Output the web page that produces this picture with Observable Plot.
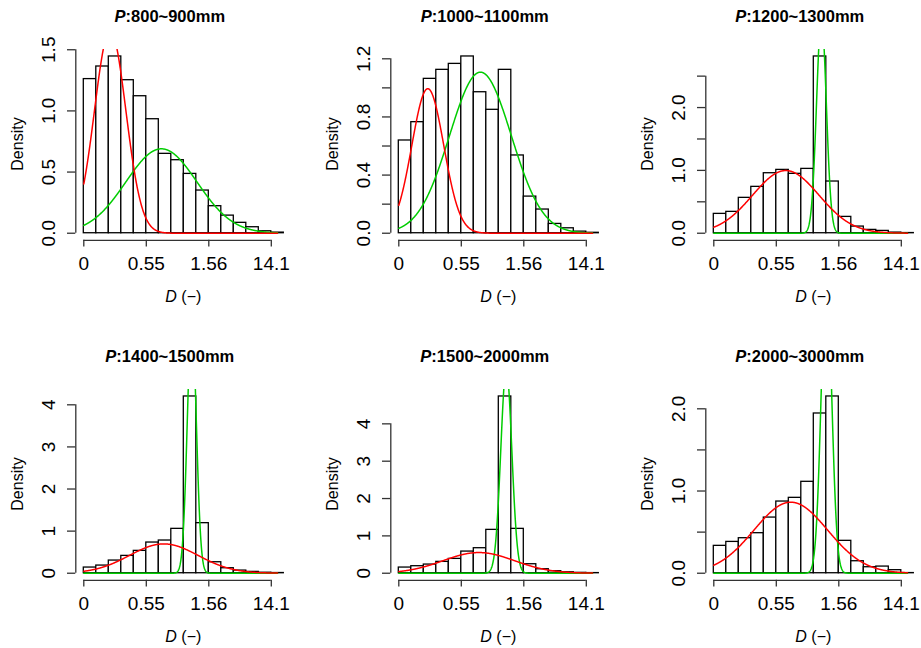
<!DOCTYPE html>
<html>
<head>
<meta charset="utf-8">
<script src="https://cdn.jsdelivr.net/npm/d3@7"></script>
<script src="https://cdn.jsdelivr.net/npm/@observablehq/plot@0.6"></script>
<style>
  html, body { margin: 0; padding: 0; background: #fff; overflow: hidden; }
  #figure {
    position: relative; width: 921px; height: 648px; overflow: hidden; background: #fff;
    font-family: "Liberation Sans", Arial, Helvetica, sans-serif; color: #000;
  }
  .panel { position: absolute; width: 315px; height: 340px; }
  .panel svg { position: absolute; left: 0; top: 0; }
  .lbl { position: absolute; white-space: nowrap; line-height: 1; }
</style>
</head>
<body>
<div id="figure"></div>
<script>
// Precipitation classes, one panel each
const precipClasses = ["800~900mm", "1000~1100mm", "1200~1300mm", "1400~1500mm", "1500~2000mm", "2000~3000mm"];

// Histogram bin edges on the transformed D scale
const binEdges = [0, 0.1, 0.2, 0.3, 0.4, 0.5, 0.6, 0.7, 0.8, 0.9, 1.0, 1.1, 1.2, 1.3, 1.4, 1.5, 1.6];

// Bar densities per class
const dens800  = [1.260, 1.363, 1.445, 1.251, 1.120, 0.932, 0.649, 0.597, 0.485, 0.349, 0.221, 0.144, 0.085, 0.049, 0.016, 0.005];
const dens1000 = [0.638, 0.764, 1.062, 1.124, 1.165, 1.216, 0.970, 0.849, 1.124, 0.535, 0.252, 0.163, 0.064, 0.034, 0.011, 0.003];
const dens1200 = [0.308, 0.340, 0.563, 0.738, 0.955, 1.008, 0.945, 1.024, 2.813, 0.823, 0.260, 0.106, 0.053, 0.037, 0.010, 0.003];
const dens1400 = [0.135, 0.182, 0.301, 0.412, 0.531, 0.729, 0.777, 1.054, 4.198, 1.189, 0.261, 0.119, 0.063, 0.032, 0.012, 0.005];
const dens1500 = [0.152, 0.188, 0.232, 0.304, 0.384, 0.580, 0.670, 1.161, 4.733, 1.188, 0.241, 0.107, 0.054, 0.025, 0.010, 0.004];
const dens2000 = [0.333, 0.381, 0.426, 0.487, 0.677, 0.872, 0.917, 1.112, 1.943, 2.150, 0.394, 0.146, 0.073, 0.081, 0.037, 0.002];
const densities = [dens800, dens1000, dens1200, dens1400, dens1500, dens2000];

// Two-component normal mixture per class (red and green components)
const redMean     = [0.211, 0.232, 0.576, 0.640, 0.640, 0.616];
const redSd       = [0.1255, 0.128, 0.266, 0.275, 0.286, 0.295];
const redWeight   = [0.521, 0.319, 0.665, 0.480, 0.397, 0.639];
const greenMean   = [0.621, 0.653, 0.861, 0.864, 0.860, 0.901];
const greenSd     = [0.285, 0.247, 0.039, 0.036, 0.044, 0.042];
const greenWeight = [0.493, 0.686, 0.335, 0.540, 0.603, 0.380];

// Axis ticks
const xTickPos = [0, 0.5, 1.0, 1.5];
const xTickLabels = ["0", "0.55", "1.56", "14.1"];
const yTicks = [
  [0, 0.5, 1.0, 1.5],
  [0, 0.2, 0.4, 0.6, 0.8, 1.0, 1.2],
  [0, 0.5, 1.0, 1.5, 2.0, 2.5],
  [0, 1, 2, 3, 4],
  [0, 1, 2, 3, 4],
  [0, 0.5, 1.0, 1.5, 2.0]
];
const yTickLabels = [
  ["0.0", "0.5", "1.0", "1.5"],
  ["0.0", "", "0.4", "", "0.8", "", "1.2"],
  ["0.0", "", "1.0", "", "2.0", ""],
  ["0", "1", "2", "3", "4"],
  ["0", "1", "2", "3", "4"],
  ["0.0", "", "1.0", "", "2.0"]
];

const FONT = '"Liberation Sans", Arial, Helvetica, sans-serif';
const PW = 315, PH = 340;               // panel cell size
const ML = 75.3, MR = 23.7, MT = 48.9, MB = 100.2;
const xDomain = [-0.064, 1.664];         // bin range plus 4% on each side
const curveTo = 1.55;

function dnorm(x, m, s) {
  const z = (x - m) / s;
  return Math.exp(-0.5 * z * z) / (s * Math.sqrt(2 * Math.PI));
}

function textAt(parent, html, cx, baseline, fs, extra = "") {
  const el = document.createElement("div");
  el.className = "lbl";
  el.innerHTML = html;
  el.style.cssText = `left:${cx}px;top:${baseline - 0.8465 * fs}px;font-size:${fs}px;transform:translateX(-50%);${extra}`;
  parent.appendChild(el);
}

function rotatedAt(parent, html, cx, cy, fs) {
  const el = document.createElement("div");
  el.className = "lbl";
  el.innerHTML = html;
  el.style.cssText = `left:${cx}px;top:${cy}px;font-size:${fs}px;transform:translate(-50%,-50%) rotate(-90deg);`;
  parent.appendChild(el);
}

function drawPanel(i) {
  const dens = densities[i];
  const bins = dens.map((d, j) => ({x1: binEdges[j], x2: binEdges[j + 1], d}));
  const M = d3.max(dens);
  const yDomain = [-0.04 * M, 1.04 * M];
  const xs = d3.range(0, curveTo + 1e-9, 0.002);
  const redCurve = xs.map(x => ({x, y: redWeight[i] * dnorm(x, redMean[i], redSd[i])}));
  const greenCurve = xs.map(x => ({x, y: greenWeight[i] * dnorm(x, greenMean[i], greenSd[i])}));
  const yt = yTicks[i], yl = yTickLabels[i];

  const chart = Plot.plot({
    width: PW, height: PH,
    marginLeft: ML, marginRight: MR, marginTop: MT, marginBottom: MB,
    x: {domain: xDomain},
    y: {domain: yDomain},
    style: {fontFamily: FONT, background: "transparent", color: "#000", overflow: "visible"},
    marks: [
      Plot.rect(bins, {x1: "x1", x2: "x2", y1: 0, y2: "d", fill: "white", stroke: "black", strokeWidth: 1.3}),
      Plot.line(greenCurve, {x: "x", y: "y", stroke: "#00CD00", strokeWidth: 1.5, clip: true}),
      Plot.line(redCurve, {x: "x", y: "y", stroke: "#FF0000", strokeWidth: 1.5, clip: true}),
      Plot.ruleY([yDomain[0]], {x1: xTickPos[0], x2: xTickPos[xTickPos.length - 1], stroke: "#333", strokeWidth: 1.3}),
      Plot.ruleX([xDomain[0]], {y1: yt[0], y2: yt[yt.length - 1], stroke: "#333", strokeWidth: 1.3}),
      Plot.axisX(xTickPos, {
        anchor: "bottom", tickSize: 6.7, tickPadding: 9.5, fontSize: 19, label: null,
        stroke: "#333", strokeWidth: 1.3,
        tickFormat: d => xTickLabels[xTickPos.indexOf(d)]
      }),
      Plot.axisY(yt, {
        anchor: "left", tickSize: 8.3, tickPadding: 13, fontSize: 19, label: null,
        stroke: "#333", strokeWidth: 1.3,
        tickRotate: -90, textAnchor: "middle", lineAnchor: "bottom",
        tickFormat: d => yl[yt.indexOf(d)]
      })
    ]
  });

  const col = i % 3, row = Math.floor(i / 3);
  const cell = document.createElement("div");
  cell.className = "panel";
  cell.style.left = `${col * PW}px`;
  cell.style.top = `${row * PH}px`;
  cell.appendChild(chart);

  const frameCx = ML + (PW - ML - MR) / 2;
  const frameCy = MT + (PH - MT - MB) / 2;
  textAt(cell, `<b><i>P</i>:${precipClasses[i]}</b>`, frameCx - 13.5, 22.3, 16.5);
  textAt(cell, `<i>D</i> (\u2212)`, frameCx, 302.8, 16);
  rotatedAt(cell, "Density", 18.0, frameCy, 16);
  document.getElementById("figure").appendChild(cell);
}

densities.forEach((_, i) => drawPanel(i));
</script>
</body>
</html>
